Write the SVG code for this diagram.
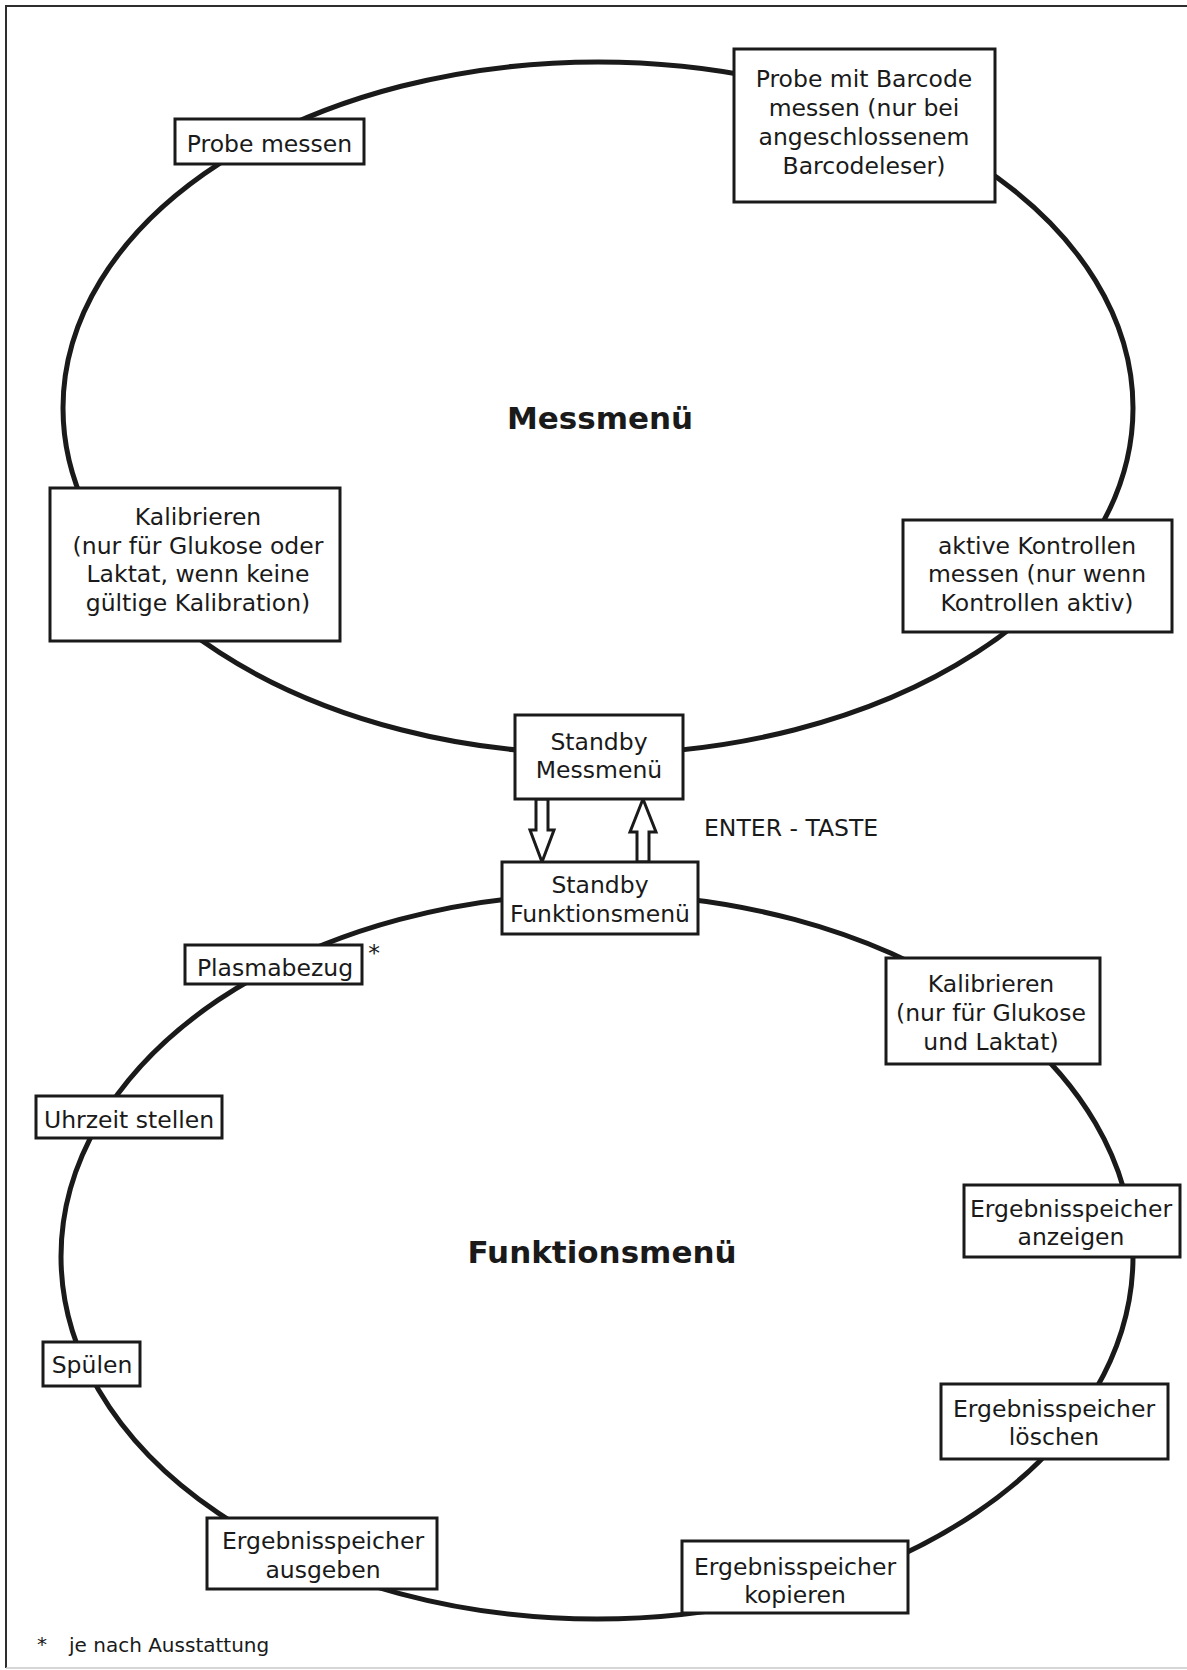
<svg xmlns="http://www.w3.org/2000/svg" width="1187" height="1670" viewBox="0 0 1187 1670">
  <style>
    .ring { fill: none; stroke: #1a1a1a; stroke-width: 5; }
    .box { fill: #ffffff; stroke: #1a1a1a; stroke-width: 3; }
    .lbl { font-family: "DejaVu Sans", Verdana, sans-serif; font-size: 23.5px; fill: #1a1a1a; text-anchor: middle; }
    .title { font-family: "DejaVu Sans", Verdana, sans-serif; font-size: 31px; font-weight: bold; fill: #1a1a1a; text-anchor: middle; }
    .note { font-family: "DejaVu Sans", Verdana, sans-serif; font-size: 20px; fill: #1a1a1a; }
    .hollow { fill: #ffffff; stroke: #1a1a1a; stroke-width: 3; stroke-linejoin: miter; }
  </style>
  <rect width="1187" height="1670" fill="#ffffff"/>
  <!-- page frame -->
  <path d="M6,1668 V6 H1187" fill="none" stroke="#2e2e2e" stroke-width="2"/>
  <path d="M6,1668 H1187" fill="none" stroke="#c8c8c8" stroke-width="1.5"/>

  <!-- menu cycles and the transitions between the two standby states -->
  <g id="connectors">
    <ellipse class="ring" cx="598" cy="408" rx="535" ry="346"/>
    <ellipse class="ring" cx="597" cy="1256.5" rx="536" ry="362.5"/>
    <polygon class="hollow" points="536,799 548,799 548,830 554,830 542,862 530,830 536,830"/>
    <polygon class="hollow" points="637,862 649,862 649,832 656,832 643,799 630,832 637,832"/>
  </g>

  <g id="titles">
    <text class="title" x="600" y="429">Messmenü</text>
    <text class="title" x="602" y="1263">Funktionsmenü</text>
    <text class="lbl" x="704" y="836" style="text-anchor:start">ENTER - TASTE</text>
  </g>

  <!-- Messmenü -->
  <g id="probe-messen">
    <rect class="box" x="175" y="119" width="189" height="45"/>
    <text class="lbl" x="269.5" y="152">Probe messen</text>
  </g>
  <g id="probe-barcode">
    <rect class="box" x="734" y="49" width="261" height="153"/>
    <text class="lbl" x="864" y="87">Probe mit Barcode</text>
    <text class="lbl" x="864" y="116">messen (nur bei</text>
    <text class="lbl" x="864" y="145">angeschlossenem</text>
    <text class="lbl" x="864" y="174">Barcodeleser)</text>
  </g>
  <g id="kalibrieren-mess">
    <rect class="box" x="50" y="488" width="290" height="153"/>
    <text class="lbl" x="198" y="525">Kalibrieren</text>
    <text class="lbl" x="198" y="554">(nur für Glukose oder</text>
    <text class="lbl" x="198" y="582">Laktat, wenn keine</text>
    <text class="lbl" x="198" y="611">gültige Kalibration)</text>
  </g>
  <g id="kontrollen">
    <rect class="box" x="903" y="520" width="269" height="112"/>
    <text class="lbl" x="1037" y="554">aktive Kontrollen</text>
    <text class="lbl" x="1037" y="582">messen (nur wenn</text>
    <text class="lbl" x="1037" y="611">Kontrollen aktiv)</text>
  </g>
  <g id="standby-mess">
    <rect class="box" x="515" y="715" width="168" height="84"/>
    <text class="lbl" x="599" y="750">Standby</text>
    <text class="lbl" x="599" y="778">Messmenü</text>
  </g>

  <!-- Funktionsmenü -->
  <g id="standby-funktion">
    <rect class="box" x="502" y="862" width="196" height="72"/>
    <text class="lbl" x="600" y="893">Standby</text>
    <text class="lbl" x="600" y="922">Funktionsmenü</text>
  </g>
  <g id="plasmabezug">
    <rect class="box" x="185" y="945" width="177" height="39"/>
    <text class="lbl" x="275" y="976">Plasmabezug</text>
    <text class="lbl" x="374" y="961">*</text>
  </g>
  <g id="uhrzeit">
    <rect class="box" x="36" y="1096" width="186" height="42"/>
    <text class="lbl" x="129" y="1128">Uhrzeit stellen</text>
  </g>
  <g id="spuelen">
    <rect class="box" x="43" y="1342" width="97" height="44"/>
    <text class="lbl" x="92" y="1373">Spülen</text>
  </g>
  <g id="ausgeben">
    <rect class="box" x="207" y="1518" width="230" height="71"/>
    <text class="lbl" x="323" y="1549">Ergebnisspeicher</text>
    <text class="lbl" x="323" y="1578">ausgeben</text>
  </g>
  <g id="kopieren">
    <rect class="box" x="682" y="1541" width="226" height="72"/>
    <text class="lbl" x="795" y="1575">Ergebnisspeicher</text>
    <text class="lbl" x="795" y="1603">kopieren</text>
  </g>
  <g id="loeschen">
    <rect class="box" x="941" y="1384" width="227" height="75"/>
    <text class="lbl" x="1054" y="1417">Ergebnisspeicher</text>
    <text class="lbl" x="1054" y="1445">löschen</text>
  </g>
  <g id="anzeigen">
    <rect class="box" x="964" y="1185" width="216" height="72"/>
    <text class="lbl" x="1071" y="1217">Ergebnisspeicher</text>
    <text class="lbl" x="1071" y="1245">anzeigen</text>
  </g>
  <g id="kalibrieren-funktion">
    <rect class="box" x="886" y="958" width="214" height="106"/>
    <text class="lbl" x="991" y="992">Kalibrieren</text>
    <text class="lbl" x="991" y="1021">(nur für Glukose</text>
    <text class="lbl" x="991" y="1050">und Laktat)</text>
  </g>

  <!-- footnote -->
  <g id="footnote">
    <text class="note" x="42" y="1651" text-anchor="middle">*</text>
    <text class="note" x="69" y="1652">je nach Ausstattung</text>
  </g>
</svg>
